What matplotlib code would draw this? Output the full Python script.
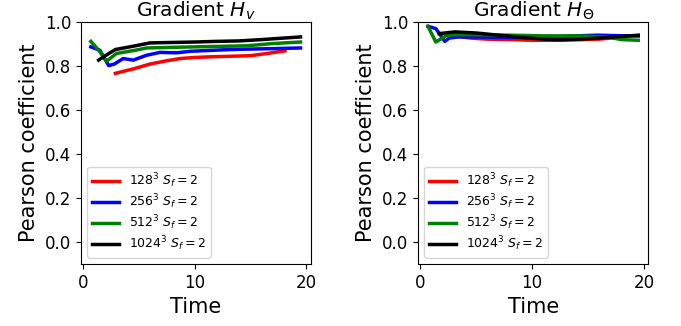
import matplotlib
matplotlib.use("Agg")
import matplotlib.pyplot as plt

# Gradient H_v panel
hv_red_t = [2.9, 4.5, 6.0, 7.5, 8.7, 10.0, 11.5, 13.0, 15.0, 16.5, 18.1]
hv_red_v = [0.765, 0.785, 0.807, 0.822, 0.832, 0.837, 0.840, 0.842, 0.845, 0.855, 0.867]
hv_blue_t = [0.7, 1.5, 2.3, 2.8, 3.6, 4.5, 5.7, 6.9, 8.4, 9.6, 11.0, 13.2, 15.0, 17.0, 19.5]
hv_blue_v = [0.885, 0.87, 0.80, 0.807, 0.832, 0.825, 0.847, 0.86, 0.858, 0.865, 0.868, 0.873, 0.875, 0.877, 0.88]
hv_green_t = [0.7, 1.4, 2.1, 3.0, 4.5, 5.7, 9.0, 12.0, 14.7, 17.0, 19.5]
hv_green_v = [0.91, 0.87, 0.82, 0.855, 0.868, 0.88, 0.884, 0.887, 0.89, 0.90, 0.907]
hv_black_t = [1.4, 2.0, 2.9, 4.5, 6.0, 8.0, 10.0, 12.0, 14.0, 16.0, 18.0, 19.5]
hv_black_v = [0.825, 0.845, 0.873, 0.888, 0.903, 0.905, 0.907, 0.91, 0.912, 0.918, 0.925, 0.93]

# Gradient H_Theta panel
ht_red_t = [2.9, 4.5, 6.0, 8.0, 10.0, 12.0, 14.0, 16.0, 18.1]
ht_red_v = [0.935, 0.925, 0.92, 0.918, 0.915, 0.915, 0.917, 0.92, 0.93]
ht_blue_t = [0.7, 1.4, 2.2, 2.6, 3.4, 5.0, 7.0, 9.8, 12.0, 14.0, 15.8, 17.5, 19.5]
ht_blue_v = [0.978, 0.968, 0.91, 0.925, 0.93, 0.93, 0.928, 0.927, 0.93, 0.935, 0.938, 0.936, 0.934]
ht_green_t = [0.7, 1.4, 2.3, 2.9, 5.0, 8.0, 11.0, 14.0, 16.7, 18.0, 19.5]
ht_green_v = [0.978, 0.907, 0.935, 0.94, 0.94, 0.938, 0.935, 0.935, 0.93, 0.918, 0.915]
ht_black_t = [1.7, 3.1, 5.0, 7.0, 9.0, 11.1, 12.5, 14.3, 16.3, 18.0, 19.5]
ht_black_v = [0.945, 0.953, 0.948, 0.938, 0.928, 0.92, 0.917, 0.92, 0.926, 0.932, 0.938]

labels = [r"$128^3\ S_f = 2$", r"$256^3\ S_f = 2$", r"$512^3\ S_f = 2$", r"$1024^3\ S_f = 2$"]
colors = ["red", "blue", "green", "black"]

panels = [
    (r"Gradient $H_v$",
     [(hv_red_t, hv_red_v), (hv_blue_t, hv_blue_v), (hv_green_t, hv_green_v), (hv_black_t, hv_black_v)]),
    (r"Gradient $H_\Theta$",
     [(ht_red_t, ht_red_v), (ht_blue_t, ht_blue_v), (ht_green_t, ht_green_v), (ht_black_t, ht_black_v)]),
]

fig = plt.figure(figsize=(6.81, 3.26), dpi=100)
axes = [fig.add_axes([0.119, 0.190, 0.337, 0.744]),
        fig.add_axes([0.614, 0.190, 0.338, 0.744])]

for ax, (title, series) in zip(axes, panels):
    for (t, v), c, lab in zip(series, colors, labels):
        ax.plot(t, v, color=c, lw=2.5, label=lab)
    ax.set_xlim(-0.18, 20.4)
    ax.set_ylim(-0.1, 1.0)
    ax.set_yticks([0.0, 0.2, 0.4, 0.6, 0.8, 1.0])
    ax.set_xticks([0, 10, 20])
    ax.tick_params(labelsize=12)
    ax.set_title(title, fontsize=14.5, pad=1.5)
    ax.set_xlabel("Time", fontsize=15)
    ax.set_ylabel("Pearson coefficient", fontsize=15)
    ax.legend(loc="lower left", fontsize=9, handlelength=2.2, labelspacing=0.2,
              borderpad=0.35)

fig.savefig("out.png", dpi=100)
